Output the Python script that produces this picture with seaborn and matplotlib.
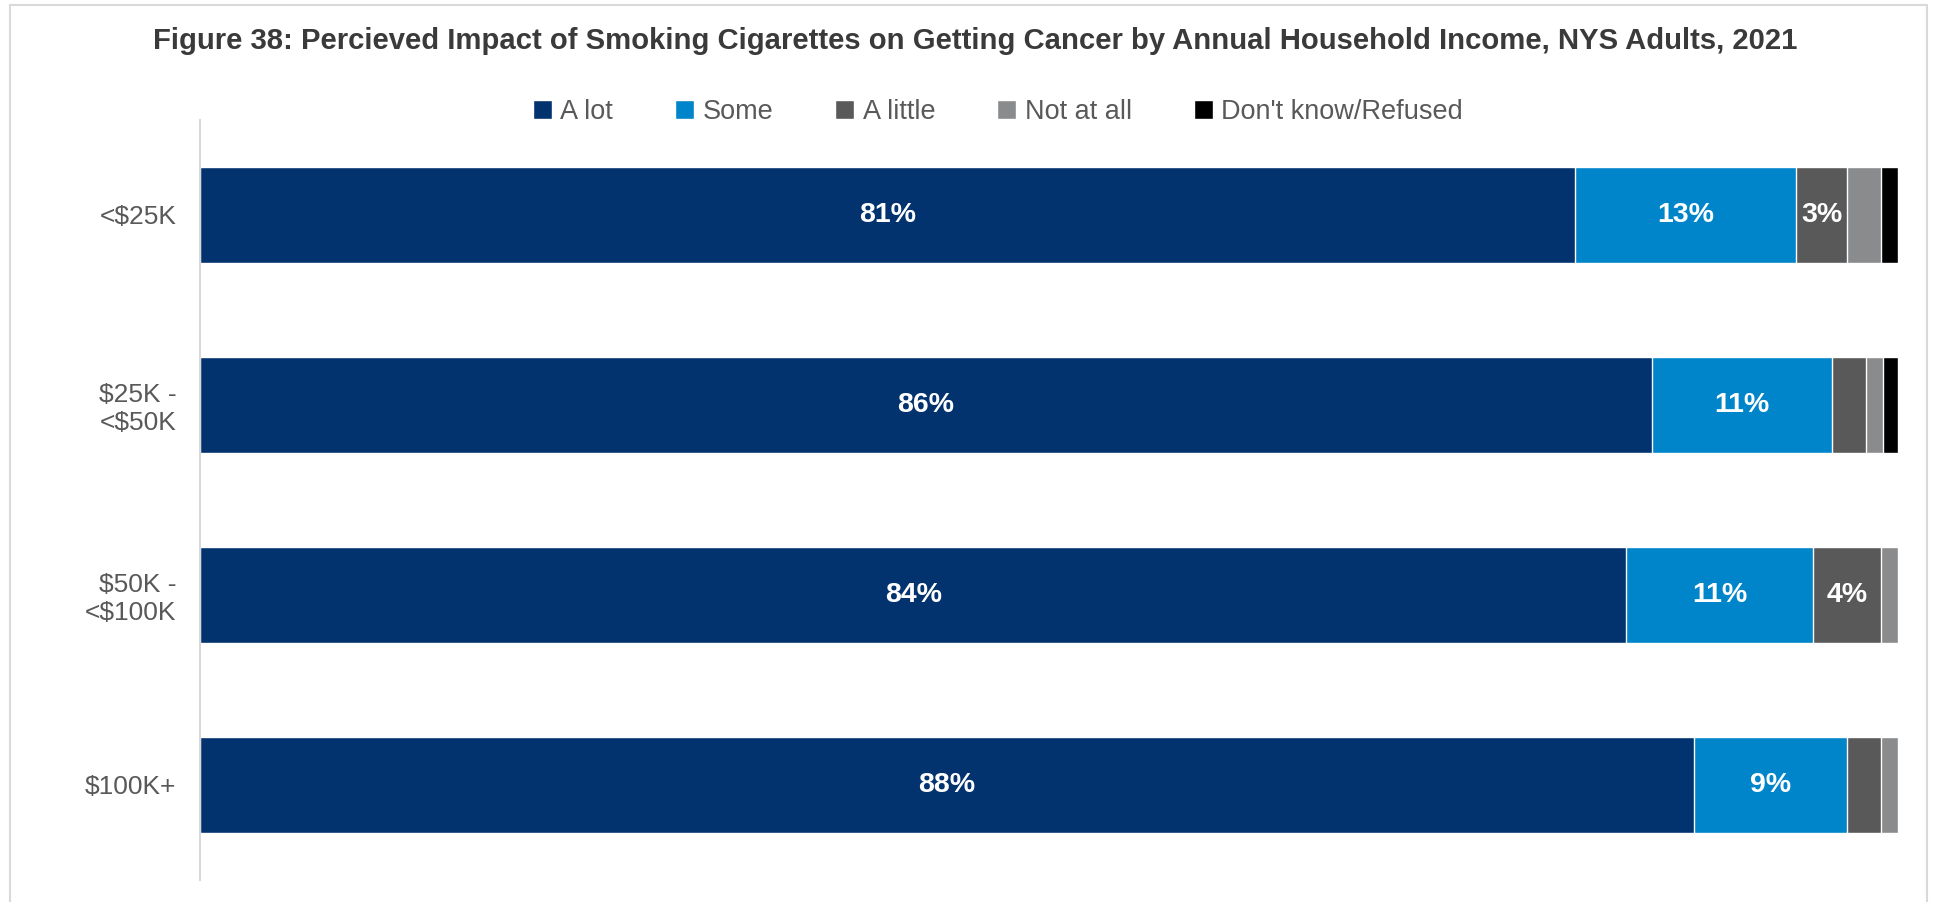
import pandas as pd
import numpy as np
import matplotlib
matplotlib.use("Agg")
import matplotlib.pyplot as plt
from matplotlib.patches import Rectangle
import seaborn as sns

# Datos (porcentajes)
categories = ["<$25K", "$25K -\n<$50K", "$50K -\n<$100K", "$100K+"]
series = ["A lot", "Some", "A little", "Not at all", "Don't know/Refused"]
a_lot = [81, 85.5, 84, 88]
some = [13, 10.6, 11, 9]
a_little = [3, 2.0, 4, 2]
not_at_all = [2, 1.0, 1, 1]
dont_know = [1, 0.9, 0, 0]
colors = ["#03336F", "#0085CA", "#595959", "#898B8D", "#000000"]

sns.set_theme(style="white")
plt.rcParams["font.family"] = ["Liberation Sans", "DejaVu Sans"]

df = pd.DataFrame({"cat": categories, "A lot": a_lot, "Some": some,
                   "A little": a_little, "Not at all": not_at_all,
                   "Don't know/Refused": dont_know})
cum = df[series].cumsum(axis=1)

fig = plt.figure(figsize=(19.35, 9.02), dpi=100)
ax = fig.add_axes([200 / 1935, 1 - 880 / 902, 1698 / 1935, 760 / 902])

# barras apiladas: se dibuja del total hacia atrás
for s, c in reversed(list(zip(series, colors))):
    sns.barplot(x=cum[s], y=df["cat"], color=c, width=0.51, label=s,
                orient="h", ax=ax, saturation=1)

# etiquetas de datos (solo >= 3%)
for i in range(len(categories)):
    left = 0
    for s in series:
        v = df[s][i]
        if v >= 3:
            ax.text(left + v / 2, i, f"{v:.0f}%", ha="center", va="center",
                    color="white", fontsize=20.5, fontweight="bold")
        left += v

ax.set_xlim(0, 100)
ax.set_xlabel("")
ax.set_ylabel("")
ax.set_xticks([])
ax.tick_params(axis="y", length=0, pad=17, labelsize=19, labelcolor="#595959")
for sp in ["top", "right", "bottom"]:
    ax.spines[sp].set_visible(False)
ax.spines["left"].set_color("#D9D9D9")
ax.spines["left"].set_linewidth(1.5)

handles, labels = ax.get_legend_handles_labels()
if ax.get_legend() is not None:
    ax.get_legend().remove()
fig.legend(handles[::-1], labels[::-1], loc="center", ncol=5,
           bbox_to_anchor=(998 / 1935, 1 - 112 / 902), frameon=False,
           fontsize=19.5, labelcolor="#595959", handlelength=0.7,
           handleheight=0.7, handletextpad=0.3, columnspacing=2.3)

fig.suptitle("Figure 38: Percieved Impact of Smoking Cigarettes on Getting Cancer by Annual Household Income, NYS Adults, 2021",
             x=975 / 1935, y=1 - 41 / 902, va="center", fontsize=21.1,
             fontweight="bold", color="#3A3A3A")

fig.patches.append(Rectangle((10 / 1935, -0.1), 1917 / 1935, 1.1 - 5 / 902,
                             transform=fig.transFigure, fill=False,
                             edgecolor="#D9D9D9", linewidth=1.5))

fig.savefig("out.png", dpi=100)
